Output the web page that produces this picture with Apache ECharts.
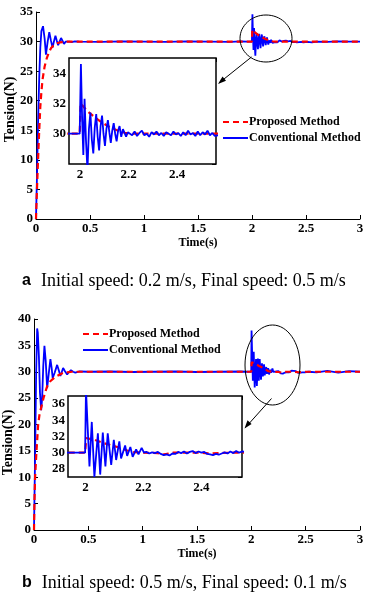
<!DOCTYPE html>
<html><head><meta charset="utf-8">
<script src="https://cdn.jsdelivr.net/npm/echarts@6/dist/echarts.min.js"></script>
<style>html,body{margin:0;padding:0;background:#fff}#c{width:372px;height:600px}</style>
</head><body><div id="c"></div>
<script>
// ---------- Data: chart a (0.2 m/s -> 0.5 m/s) ----------
const convTimeA = [
  0, 0.01, 0.02, 0.03, 0.04, 0.05, 0.065, 0.08, 0.092, 0.108, 0.123, 0.138, 0.153, 0.166, 0.18, 0.192, 0.205, 0.218, 0.232, 0.246, 0.26, 0.275, 0.29, 0.31, 0.33, 0.36, 0.4,
  0.6, 0.8, 1.0, 1.2, 1.4, 1.6, 1.8, 1.9, 1.95, 1.999,
  2.004, 2.009, 2.014, 2.019, 2.025, 2.031, 2.037, 2.043, 2.049, 2.055, 2.061, 2.067, 2.073, 2.079, 2.085, 2.091, 2.097, 2.103, 2.109, 2.115, 2.121, 2.127, 2.133, 2.139, 2.145, 2.151, 2.157, 2.163, 2.17, 2.177, 2.184, 2.19, 2.197,
  2.205, 2.215, 2.225, 2.235, 2.245, 2.255, 2.265, 2.275, 2.285, 2.295, 2.305, 2.315, 2.325, 2.335, 2.345, 2.355, 2.365, 2.375, 2.385, 2.395, 2.405, 2.415, 2.425, 2.435, 2.445, 2.455, 2.465, 2.475, 2.485, 2.495, 2.505, 2.515, 2.525, 2.535, 2.545, 2.555,
  2.6, 2.7, 2.8, 2.9, 3.0
];
const convA = [
  0, 8, 17, 24, 29, 31.8, 32.6, 30.5, 27.8, 30, 31.6, 30.2, 29, 30, 31, 30.2, 29.4, 30, 30.6, 30.1, 29.6, 30, 30.3, 30, 29.9, 30.05, 30,
  29.95, 30.05, 30, 29.95, 30.05, 30, 29.95, 30.05, 30, 30,
  34.6, 31, 28.6, 32.3, 29.5, 27.6, 30.3, 31.4, 29.6, 28.7, 30.4, 31.3, 29.8, 28.9, 30.5, 31.2, 30, 29.2, 30.3, 30.9, 30.1, 29.4, 30.2, 30.7, 30.0, 29.5, 30.2, 30.5, 29.8, 30.3, 30.4, 29.8, 30.1,
  30.1, 29.9, 30.15, 29.85, 30.05, 30.2, 29.9, 30.0, 29.8, 30.1, 29.95, 30.15, 29.9, 30.05, 29.85, 30.1, 30.0, 29.9, 30.15, 29.95, 30.05, 29.85, 30.1, 29.9, 30.2, 29.95, 30.05, 29.85, 30.15, 29.9, 30.1, 29.95, 30.2, 29.9, 30.05, 29.85,
  30, 29.95, 30.05, 30, 30
];
const propTimeA = [0, 0.01, 0.02, 0.03, 0.04, 0.05, 0.06, 0.08, 0.10, 0.12, 0.14, 0.16, 0.19, 0.22, 0.28, 0.4, 1.0, 1.5, 1.999, 2.003, 2.03, 2.06, 2.085, 2.11, 2.135, 2.16, 2.185, 2.21, 2.3, 2.4, 2.5, 2.6, 3.0];
const propA = [0, 5.5, 10.5, 15, 19, 21.5, 23.5, 25.8, 27.2, 28.2, 28.9, 29.3, 29.7, 29.85, 30, 30, 30, 30, 30, 32.0, 31.5, 31.1, 30.8, 30.55, 30.35, 30.18, 30.06, 30, 30, 30, 30, 30, 30];

// ---------- Data: chart b (0.5 m/s -> 0.1 m/s) ----------
const convTimeB = [
  0, 0.01, 0.02, 0.029, 0.035, 0.045, 0.055, 0.066, 0.075, 0.085, 0.096, 0.108, 0.121, 0.135, 0.151, 0.162, 0.172, 0.19, 0.213, 0.228, 0.243, 0.255, 0.268, 0.285, 0.305, 0.32, 0.34, 0.36, 0.38, 0.42,
  0.5, 0.7, 0.9, 1.1, 1.3, 1.5, 1.7, 1.9, 1.95, 1.999,
  2.002, 2.008, 2.014, 2.022, 2.031, 2.043, 2.051, 2.06, 2.069, 2.077, 2.089, 2.098, 2.106, 2.117, 2.123, 2.137, 2.144, 2.155, 2.163, 2.175, 2.183, 2.194, 2.202,
  2.21, 2.22, 2.23, 2.24, 2.25, 2.26, 2.27, 2.28, 2.29, 2.30, 2.31, 2.32, 2.33, 2.34, 2.35, 2.36, 2.37, 2.38, 2.39, 2.40, 2.41, 2.42, 2.43, 2.44, 2.45, 2.46, 2.47, 2.48, 2.49, 2.50, 2.51, 2.52, 2.53, 2.54,
  2.6, 2.7, 2.8, 2.9, 3.0
];
const convB = [
  0, 14, 30, 38.2, 37.4, 33, 26, 22.7, 25, 31, 34.9, 32, 26.9, 29.5, 32.4, 30.8, 28.8, 29.8, 31.3, 30.3, 29.2, 29.9, 30.7, 30.1, 29.5, 29.9, 30.3, 30.0, 29.85, 30.05,
  30, 30.05, 29.95, 30, 30.05, 29.95, 30, 30.05, 30, 30,
  37.8, 33, 28.3, 33.8, 27.0, 32.4, 27.3, 32.5, 28.3, 32.4, 28.5, 31.6, 29.1, 31.4, 29.3, 30.9, 29.6, 30.7, 29.5, 30.4, 29.8, 30.6, 30.0,
  30.1, 29.9, 30.05, 29.95, 30.1, 29.85, 29.7, 29.8, 29.65, 29.9, 29.85, 30.1, 29.95, 30.15, 29.9, 30.1, 30.2, 29.95, 30.15, 30.0, 30.1, 29.85, 29.8, 29.7, 29.85, 29.75, 29.9, 30.05, 29.9, 30.15, 29.95, 30.2, 30.0, 30.15,
  29.9, 30.15, 29.85, 30.1, 30.0
];
const propTimeB = [0, 0.005, 0.01, 0.023, 0.038, 0.05, 0.066, 0.09, 0.12, 0.15, 0.2, 0.27, 0.35, 1.0, 1.999, 2.003, 2.03, 2.066, 2.11, 2.157, 2.2, 2.25, 2.265, 2.28, 2.3, 2.4, 2.43, 2.46, 2.5, 2.6, 3.0];
const propB = [0, 6, 10, 15, 19.9, 21.8, 23.2, 25.2, 27.2, 28.2, 29.1, 29.8, 30, 30, 30, 31.8, 31.6, 31.15, 30.7, 30.1, 30, 29.95, 29.75, 29.85, 30, 30, 29.9, 29.95, 30, 30, 30];

// ---------- Text ----------
const seriesNames = ['Proposed Method', 'Conventional Method'];
const xName = 'Time(s)';
const yName = 'Tension(N)';
const captionA = ['a', 'Initial speed: 0.2 m/s, Final speed: 0.5 m/s'];
const captionB = ['b', 'Initial speed: 0.5 m/s, Final speed: 0.1 m/s'];

// ---------- Build ----------
const pairs = (t, v) => t.map((x, i) => [x, v[i]]);
const SERIF = '"Liberation Serif","Times New Roman",serif';
const lbl = {color: '#000', fontFamily: SERIF, fontWeight: 'bold', fontSize: 13};
const RED = '#ff0000', BLUE = '#0000ff';

function mainX(gi) {
  return {type: 'value', gridIndex: gi, min: 0, max: 3, interval: 0.5,
    axisLine: {show: true, onZero: false, lineStyle: {color: '#000', width: 1}},
    axisTick: {show: true, inside: true, length: 4, lineStyle: {color: '#000'}},
    axisLabel: Object.assign({margin: 3}, lbl), splitLine: {show: false},
    name: xName, nameLocation: 'middle', nameGap: 18, nameMoveOverlap: false,
    nameTextStyle: {color: '#000', fontFamily: SERIF, fontWeight: 'bold', fontSize: 12}};
}
function mainY(gi, max, namePad) {
  return {type: 'value', gridIndex: gi, min: 0, max: max, interval: 5,
    axisLine: {show: true, onZero: false, lineStyle: {color: '#000', width: 1}},
    axisTick: {show: true, inside: true, length: 4, lineStyle: {color: '#000'}},
    axisLabel: Object.assign({margin: 3}, lbl), splitLine: {show: false},
    name: yName, nameLocation: 'middle', nameGap: 19, nameMoveOverlap: false,
    nameTextStyle: {color: '#000', fontFamily: SERIF, fontWeight: 'bold', fontSize: 14, padding: namePad}};
}
const isStep = (v, s) => Math.abs(v / s - Math.round(v / s)) < 1e-6;
function insetX(gi, min, max, pos, showLabel) {
  return {type: 'value', gridIndex: gi, min: min, max: max, splitNumber: 3, position: pos,
    axisLine: {show: false},
    axisTick: {show: true, inside: true, length: 4, lineStyle: {color: '#000'}},
    axisLabel: Object.assign({show: showLabel, margin: 4, showMinLabel: false, showMaxLabel: false,
      formatter: v => isStep(v, 0.2) ? String(+v.toFixed(1)) : ''}, lbl),
    splitLine: {show: false}};
}
function insetY(gi, min, max, pos, showLabel, hide) {
  return {type: 'value', gridIndex: gi, min: min, max: max, splitNumber: 5, position: pos,
    axisLine: {show: false},
    axisTick: {show: true, inside: true, length: 4, lineStyle: {color: '#000'}},
    axisLabel: Object.assign({show: showLabel, margin: 3, showMinLabel: false, showMaxLabel: false,
      formatter: v => (isStep(v, 2) && hide.indexOf(v) < 0) ? String(v) : ''}, lbl),
    splitLine: {show: false}};
}
function line(name, xi, yi, data, color, dashed, z) {
  return {name: name, type: 'line', xAxisIndex: xi, yAxisIndex: yi, data: data, showSymbol: false, symbol: 'none',
    legendIcon: 'none', animation: false, z: z, clip: true,
    lineStyle: {color: color, width: dashed ? 2.2 : 1.8, type: dashed ? [6, 4] : 'solid'},
    itemStyle: {color: color}};
}
const dA_c = pairs(convTimeA, convA), dA_p = pairs(propTimeA, propA);
const dB_c = pairs(convTimeB, convB), dB_p = pairs(propTimeB, propB);

const legendBase = {orient: 'vertical', itemWidth: 25, itemHeight: 10, itemGap: 4, padding: 0,
  itemStyle: {opacity: 0},
  textStyle: {color: '#000', fontFamily: SERIF, fontWeight: 'bold', fontSize: 12, padding: [0, 0, 0, -4]},
  data: seriesNames, selectedMode: false};

const capRich = {
  a: {fontFamily: '"Liberation Sans",Arial,sans-serif', fontWeight: 'bold', fontSize: 16, color: '#000'},
  b: {fontFamily: SERIF, fontWeight: 'normal', fontSize: 18, color: '#000'}
};
const option = {
  animation: false,
  backgroundColor: '#fff',
  title: [
    {text: '{a|' + captionA[0] + '}  {b|' + captionA[1] + '}', left: 22, top: 272, padding: 0,
      textStyle: {fontWeight: 'normal', rich: capRich}},
    {text: '{a|' + captionB[0] + '}  {b|' + captionB[1] + '}', left: 22, top: 574, padding: 0,
      textStyle: {fontWeight: 'normal', rich: capRich}}
  ],
  legend: [
    Object.assign({left: 222, top: 116}, legendBase),
    Object.assign({left: 82, top: 328}, legendBase)
  ],
  grid: [
    {left: 36, top: 12, width: 324, height: 207, outerBoundsMode: 'none'},
    {left: 69, top: 58, width: 147, height: 106, show: true, backgroundColor: '#fff', borderColor: '#000', borderWidth: 1.5, outerBoundsMode: 'none', z: 5},
    {left: 34, top: 319, width: 326, height: 211, outerBoundsMode: 'none'},
    {left: 68, top: 396, width: 174, height: 81, show: true, backgroundColor: '#fff', borderColor: '#000', borderWidth: 1.5, outerBoundsMode: 'none', z: 5}
  ],
  xAxis: [
    mainX(0),
    insetX(1, 1.955, 2.56, 'bottom', true),
    mainX(2),
    insetX(3, 1.94, 2.54, 'bottom', true),
    insetX(1, 1.955, 2.56, 'top', false),
    insetX(3, 1.94, 2.54, 'top', false)
  ],
  yAxis: [
    mainY(0, 35, [0, 0, 0, 12]),
    insetY(1, 28, 35, 'left', true, [28]),
    mainY(2, 40, [0, 36, 0, 0]),
    insetY(3, 27, 37, 'left', true, []),
    insetY(1, 28, 35, 'right', false, []),
    insetY(3, 27, 37, 'right', false, [])
  ],
  series: [
    line(seriesNames[1], 0, 0, dA_c, BLUE, false, 2),
    line(seriesNames[0], 0, 0, dA_p, RED, true, 3),
    line(seriesNames[0], 1, 1, dA_p, RED, true, 6),
    line(seriesNames[1], 1, 1, dA_c, BLUE, false, 7),
    line(seriesNames[1], 2, 2, dB_c, BLUE, false, 2),
    line(seriesNames[0], 2, 2, dB_p, RED, true, 3),
    line(seriesNames[0], 3, 3, dB_p, RED, true, 6),
    line(seriesNames[1], 3, 3, dB_c, BLUE, false, 7)
  ],
  graphic: [
    {type: 'ellipse', shape: {cx: 266, cy: 38.5, rx: 26, ry: 23.5}, style: {fill: 'none', stroke: '#000', lineWidth: 1}, z: 20},
    {type: 'line', shape: {x1: 251.5, y1: 57, x2: 219, y2: 83}, style: {stroke: '#000', lineWidth: 1}, z: 20},
    {type: 'polygon', shape: {points: [[218, 84], [222.5, 76.5], [226, 80.8]]}, style: {fill: '#000'}, z: 20},
    {type: 'ellipse', shape: {cx: 272.5, cy: 365, rx: 27.5, ry: 40}, style: {fill: 'none', stroke: '#000', lineWidth: 1}, z: 20},
    {type: 'line', shape: {x1: 271.5, y1: 398.5, x2: 245.5, y2: 427.5}, style: {stroke: '#000', lineWidth: 1}, z: 20},
    {type: 'polygon', shape: {points: [[244.5, 428.5], [247.5, 420.3], [251.6, 424]]}, style: {fill: '#000'}, z: 20}
  ]
};
const chart = echarts.init(document.getElementById('c'), null, {renderer: 'canvas'});
chart.setOption(option);
</script>
</body></html>
